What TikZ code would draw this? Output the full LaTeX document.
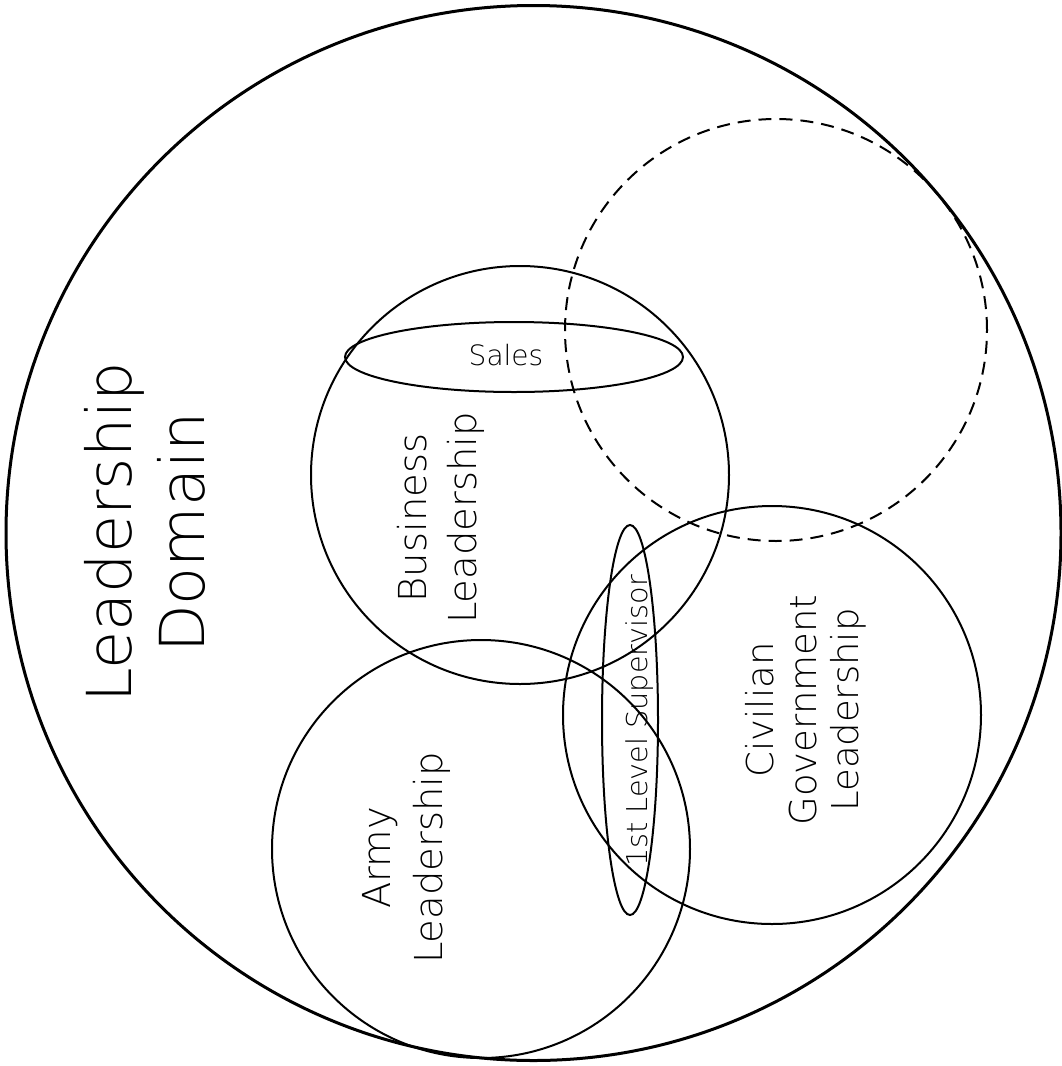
\documentclass[tikz,border=0pt]{standalone}
\usepackage{fontspec}
\IfFontExistsTF{DejaVuSans-ExtraLight.ttf}
  {\setmainfont{DejaVuSans-ExtraLight.ttf}}
  {\IfFontExistsTF{DejaVu Sans ExtraLight}
    {\setmainfont{DejaVu Sans ExtraLight}}
    {\setmainfont{DejaVu Sans}}}
\usetikzlibrary{shapes.geometric}
\begin{document}
\begin{tikzpicture}[x=1pt,y=-1pt,
  venn/.style={circle, draw, line width=2pt, inner sep=0pt, outer sep=0pt},
  outerset/.style={circle, draw, line width=3pt, inner sep=0pt, outer sep=0pt},
  oval/.style={ellipse, draw, line width=2pt, inner sep=0pt, outer sep=0pt},
  lbl/.style={inner sep=0pt, outer sep=0pt, align=center},
]
\useasboundingbox (0,0) rectangle (1062,1066);
% outer domain
\node[outerset, minimum size=1055pt] (domaincircle) at (533.5,533) {};
% inner sets
\node[venn, minimum size=418pt] (business) at (520,475) {};
\node[venn, dash pattern=on 13pt off 8pt, minimum size=422pt] (unknown) at (776,330) {};
\node[venn, minimum size=418pt] (civilian) at (772,715) {};
\node[venn, minimum size=418pt] (army) at (481,849) {};
\node[oval, minimum width=338pt, minimum height=70pt] (sales) at (514,357) {};
\node[oval, minimum width=56pt, minimum height=390pt] (supervisor) at (630,720) {};
% labels
\node[lbl, rotate=90, font=\fontsize{62}{73}\selectfont] (domainlbl) at (145,532.5) {Leadership\\Domain};
\node[lbl, rotate=90, font=\fontsize{38.5}{50}\selectfont] (businesslbl) at (441,518) {Business\\Leadership};
\node[lbl, rotate=90, font=\fontsize{38.5}{52}\selectfont] (armylbl) at (406.5,858) {Army\\Leadership};
\node[lbl, rotate=90, font=\fontsize{37}{42.5}\selectfont] (civilianlbl) at (806,710) {Civilian\\Government\\Leadership};
\node[lbl, rotate=90, font=\fontsize{28.7}{34}\selectfont] (supervisorlbl) at (639.5,721) {1st Level Supervisor};
\node[lbl, font=\fontsize{28}{34}\selectfont] (saleslbl) at (506,355) {Sales};
\end{tikzpicture}
\end{document}
